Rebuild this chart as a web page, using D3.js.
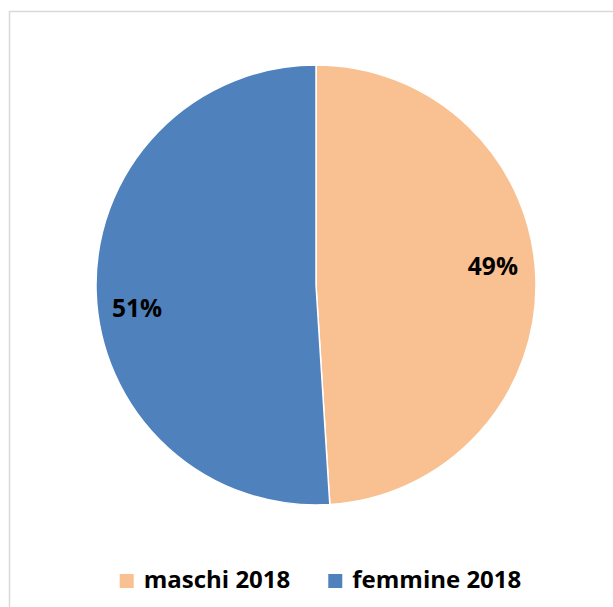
<!DOCTYPE html>
<html>
<head>
    <meta charset="utf-8">
    <title>maschi / femmine 2018</title>
    <script src="https://d3js.org/d3.v7.min.js"></script>
    <style>
        body { margin: 0; background: #fff; }
        text { font-family: "Open Sans", "DejaVu Sans", sans-serif; font-weight: bold; fill: #000; }
    </style>
</head>
<body>
    <svg class="pieChart" width="613" height="607"></svg>

    <script>
// dati
const categorie = ['maschi 2018', 'femmine 2018'];
const valori = [49, 51];
const colori = ['#F9C191', '#4F81BD'];

function disegnaGrafico() {
    const svg = d3.select('.pieChart');

    // cornice dell'area grafico (esce dal bordo destro e inferiore)
    svg.append('rect')
        .attr('x', 9.5)
        .attr('y', 11.5)
        .attr('width', 640)
        .attr('height', 640)
        .attr('fill', '#fff')
        .attr('stroke', '#D9D9D9')
        .attr('stroke-width', 1.5);

    const cx = 316, cy = 285, raggio = 220;
    const g = svg.append('g').attr('transform', `translate(${cx},${cy})`);

    const dati = categorie.map((c, i) => ({ nome: c, valore: valori[i], colore: colori[i] }));

    const pie = d3.pie()
        .sort(null)
        .value(d => d.valore);

    const arc = d3.arc().innerRadius(0).outerRadius(raggio);
    const arcEtichette = d3.arc().innerRadius(178).outerRadius(178);

    const fette = pie(dati);

    g.selectAll('.fetta')
        .data(fette)
        .enter().append('path')
        .attr('class', 'fetta')
        .attr('d', arc)
        .attr('fill', d => d.data.colore)
        .attr('stroke', '#fff')
        .attr('stroke-width', 1.5);

    const totale = d3.sum(valori);

    // etichette percentuali
    g.selectAll('.etichetta')
        .data(fette)
        .enter().append('text')
        .attr('class', 'etichetta')
        .attr('x', d => arcEtichette.centroid(d)[0] - 1)
        .attr('y', d => {
            const [x, y] = arcEtichette.centroid(d);
            return y + (x > 0 ? -13 : 18);
        })
        .attr('dy', '0.36em')
        .attr('text-anchor', 'middle')
        .style('font-size', '24.5px')
        .text(d => Math.round(d.data.valore / totale * 100) + '%');

    // legenda
    const legenda = svg.append('g');
    const lato = 14, spazioTesto = 10, spazioVoci = 38;
    let xCorr = 0;
    dati.forEach(d => {
        const voce = legenda.append('g').attr('transform', `translate(${xCorr},0)`);
        voce.append('rect')
            .attr('x', 0)
            .attr('y', -lato)
            .attr('width', lato)
            .attr('height', lato)
            .attr('fill', d.colore);
        const t = voce.append('text')
            .attr('x', lato + spazioTesto)
            .attr('y', 0)
            .style('font-size', '24px')
            .text(d.nome);
        xCorr += lato + spazioTesto + t.node().getComputedTextLength() + spazioVoci;
    });
    const larghezza = xCorr - spazioVoci;
    legenda.attr('transform', `translate(${320.5 - larghezza / 2},588)`);
}

disegnaGrafico();
    </script>
</body>
</html>
